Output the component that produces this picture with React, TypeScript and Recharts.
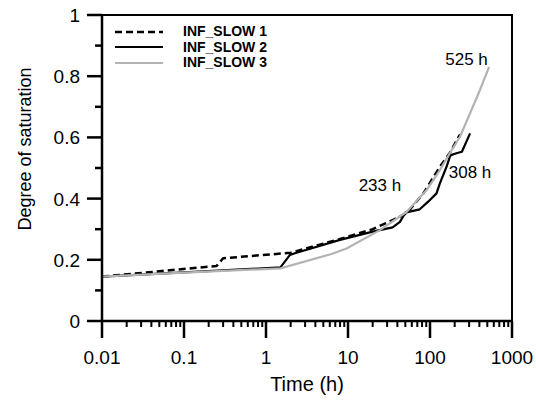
import React from 'react';
import {
  LineChart,
  Line,
  XAxis,
  YAxis,
  ReferenceArea,
  ReferenceDot,
  Label,
} from 'recharts';

// Series: time (h) and degree of saturation
const slow1Time = [0.01, 0.25, 0.3, 2, 8, 20, 35, 52, 83, 132, 175, 233];
const slow1Sat = [0.145, 0.18, 0.205, 0.223, 0.268, 0.3, 0.33, 0.352, 0.417, 0.504, 0.55, 0.61];

const slow2Time = [0.01, 1.5, 1.96, 2.3, 8, 20, 35, 43, 50, 75, 95, 120, 132, 159, 175, 180, 210, 245, 308];
const slow2Sat = [0.145, 0.175, 0.216, 0.222, 0.265, 0.292, 0.306, 0.324, 0.354, 0.365, 0.39, 0.417, 0.45, 0.504, 0.537, 0.542, 0.548, 0.553, 0.613];

const slow3Time = [0.01, 0.1, 1.5, 6.3, 9.6, 24.5, 52, 91, 132, 175, 232, 308, 407, 525];
const slow3Sat = [0.145, 0.158, 0.172, 0.219, 0.237, 0.297, 0.357, 0.428, 0.493, 0.549, 0.602, 0.679, 0.755, 0.83];

const seriesNames = ['INF_SLOW 1', 'INF_SLOW 2', 'INF_SLOW 3'];

// axis ticks
const xDecades = [0.01, 0.1, 1, 10, 100, 1000];
const xDecadeLabels = ['0.01', '0.1', '1', '10', '100', '1000'];
const yTicks = [0, 0.1, 0.2, 0.3, 0.4, 0.5, 0.6, 0.7, 0.8, 0.9, 1];
const yTickLabels = ['0', '', '0.2', '', '0.4', '', '0.6', '', '0.8', '', '1'];

// end-of-run annotations, anchored in data coordinates
const annoText = ['525 h', '308 h', '233 h'];
const annoTime = [279, 308, 24.5];
const annoSat = [0.856, 0.484, 0.444];

const FONT = '"Liberation Sans", Arial, Helvetica, sans-serif';

const toRows = (t: number[], v: number[]) => t.map((x, i) => ({ t: x, y: v[i] }));

const xTicks: number[] = [];
xDecades.forEach((d, i) => {
  xTicks.push(d);
  if (i < xDecades.length - 1) {
    for (let m = 2; m <= 9; m++) xTicks.push(+(d * m).toPrecision(3));
  }
});

const styles = [
  { stroke: '#000', strokeWidth: 2.5, dash: '7 4' },
  { stroke: '#000', strokeWidth: 2.2, dash: undefined },
  { stroke: '#b3b3b3', strokeWidth: 2.2, dash: undefined },
];

function XTick(props: any) {
  const { x, y, payload } = props;
  const idx = xDecades.indexOf(payload.value);
  const major = idx >= 0;
  return (
    <g>
      <line x1={x} x2={x} y1={y} y2={y + (major ? 17 : 6)} stroke="#000" strokeWidth={major ? 2.5 : 2} />
      {major && (
        <text x={x} y={y + 43} textAnchor="middle" fontSize={19} fontFamily={FONT} fill="#000">
          {xDecadeLabels[idx]}
        </text>
      )}
    </g>
  );
}

function YTick(props: any) {
  const { x, y, index } = props;
  const label = yTickLabels[index] ?? '';
  const major = label !== '';
  return (
    <g>
      <line x1={x - (major ? 15 : 7)} x2={x} y1={y} y2={y} stroke="#000" strokeWidth={2.5} />
      {major && (
        <text x={x - 22} y={y + 7} textAnchor="end" fontSize={19} fontFamily={FONT} fill="#000">
          {label}
        </text>
      )}
    </g>
  );
}

function LegendBox() {
  return (
    <div
      style={{
        position: 'absolute',
        left: 112,
        top: 24,
        fontFamily: FONT,
        fontWeight: 'bold',
        fontSize: 14,
        color: '#000',
      }}
    >
      {seriesNames.map((name, i) => (
        <div key={name} style={{ display: 'flex', alignItems: 'center', height: 15.5 }}>
          <svg width={52} height={14} style={{ display: 'block' }}>
            <line
              x1={3}
              x2={51}
              y1={7}
              y2={7}
              stroke={styles[i].stroke}
              strokeWidth={styles[i].strokeWidth}
              strokeDasharray={styles[i].dash}
            />
          </svg>
          <span style={{ marginLeft: 19, lineHeight: '15px', whiteSpace: 'nowrap' }}>{name}</span>
        </div>
      ))}
    </div>
  );
}

export default function App() {
  const series = [
    toRows(slow1Time, slow1Sat),
    toRows(slow2Time, slow2Sat),
    toRows(slow3Time, slow3Sat),
  ];

  return (
    <div style={{ position: 'absolute', left: 0, top: 0, width: 536, height: 401, background: '#fff' }}>
      <LineChart width={536} height={401} margin={{ top: 15, right: 24, bottom: 0, left: 0 }}>
        <XAxis
          dataKey="t"
          type="number"
          scale="log"
          domain={[0.01, 1000]}
          allowDataOverflow
          ticks={xTicks}
          interval={0}
          height={80}
          tickSize={0}
          tickMargin={0}
          tick={<XTick />}
          axisLine={{ stroke: '#000', strokeWidth: 2.5 }}
          tickLine={false}
        >
          <Label
            content={(p: any) => {
              const vb = p.viewBox || { x: 102, y: 321, width: 410 };
              return (
                <text x={vb.x + vb.width / 2} y={vb.y + 70} textAnchor="middle" fontSize={20} fontFamily={FONT} fill="#000">
                  Time (h)
                </text>
              );
            }}
          />
        </XAxis>
        <YAxis
          dataKey="y"
          type="number"
          domain={[0, 1]}
          ticks={yTicks}
          interval={0}
          width={102}
          tickSize={0}
          tickMargin={0}
          tick={<YTick />}
          axisLine={{ stroke: '#000', strokeWidth: 2.5 }}
          tickLine={false}
        >
          <Label
            content={(p: any) => {
              const vb = p.viewBox || { x: 0, y: 15, width: 102, height: 306 };
              const cx = 25;
              const cy = vb.y + vb.height / 2 - 19;
              return (
                <text
                  x={cx}
                  y={cy}
                  transform={`rotate(-90 ${cx} ${cy})`}
                  textAnchor="middle"
                  dominantBaseline="central"
                  fontSize={18}
                  fontFamily={FONT}
                  fill="#000"
                >
                  Degree of saturation
                </text>
              );
            }}
          />
        </YAxis>
        <ReferenceArea x1={0.01} x2={1000} y1={0} y2={1} fill="none" stroke="#000" strokeWidth={2} ifOverflow="visible" />
        {series.map((rows, i) => (
          <Line
            key={seriesNames[i]}
            data={rows}
            dataKey="y"
            name={seriesNames[i]}
            type="linear"
            stroke={styles[i].stroke}
            strokeWidth={styles[i].strokeWidth}
            strokeDasharray={styles[i].dash}
            strokeLinejoin="round"
            dot={false}
            activeDot={false}
            isAnimationActive={false}
          />
        ))}
        {annoText.map((txt, i) => (
          <ReferenceDot
            key={txt}
            x={annoTime[i]}
            y={annoSat[i]}
            r={1}
            ifOverflow="visible"
            shape={(p: any) => (
              <text x={p.cx} y={p.cy} textAnchor="middle" dominantBaseline="central" fontSize={17} fontFamily={FONT} fill="#000">
                {txt}
              </text>
            )}
          />
        ))}
      </LineChart>
      <LegendBox />
    </div>
  );
}
